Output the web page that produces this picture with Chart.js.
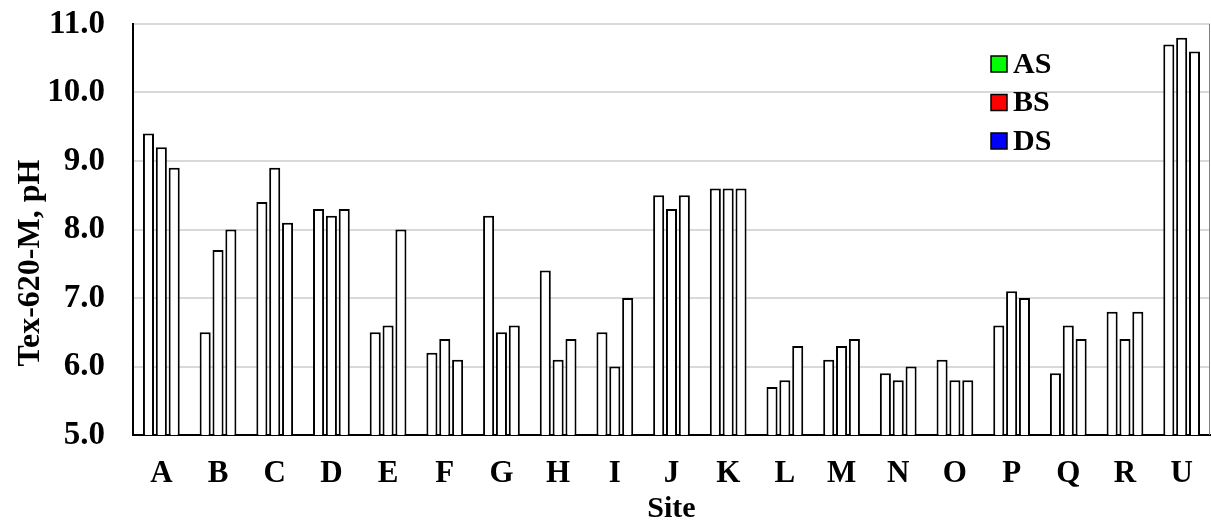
<!DOCTYPE html>
<html>
<head>
<meta charset="utf-8">
<script src="https://cdn.jsdelivr.net/npm/chart.js@4.4.1/dist/chart.umd.min.js"></script>
<style>
  html, body { margin: 0; padding: 0; background: #fff; }
  #wrap { width: 1211px; height: 523px; position: relative; }
</style>
</head>
<body>
<div id="wrap"><canvas id="phChart"></canvas></div>
<script>
// ===== Data =====
const sites = ['A','B','C','D','E','F','G','H','I','J','K','L','M','N','O','P','Q','R','U'];
const asValues = [9.4, 6.5, 8.4, 8.3, 6.5, 6.2, 8.2, 7.4, 6.5, 8.5, 8.6, 5.7, 6.1, 5.9, 6.1, 6.6, 5.9, 6.8, 10.7];
const bsValues = [9.2, 7.7, 8.9, 8.2, 6.6, 6.4, 6.5, 6.1, 6.0, 8.3, 8.6, 5.8, 6.3, 5.8, 5.8, 7.1, 6.6, 6.4, 10.8];
const dsValues = [8.9, 8.0, 8.1, 8.3, 8.0, 6.1, 6.6, 6.4, 7.0, 8.5, 8.6, 6.3, 6.4, 6.0, 5.8, 7.0, 6.4, 6.8, 10.6];
const seriesNames = ['AS', 'BS', 'DS'];
const legendColors = ['#00ff00', '#ff0000', '#0000ff'];
const yTicks = [5, 6, 7, 8, 9, 10, 11];

const FONT = "'Liberation Serif', 'Times New Roman', serif";

// ===== Legend + extra text drawn on the canvas =====
const decorPlugin = {
    id: 'decor',
    afterDraw(chart) {
        const ctx = chart.ctx;
        const area = chart.chartArea;
        ctx.save();
        // right border of the plot
        ctx.strokeStyle = '#808080';
        ctx.lineWidth = 1;
        ctx.beginPath();
        ctx.moveTo(area.right - 0.5, area.top);
        ctx.lineTo(area.right - 0.5, area.bottom);
        ctx.stroke();

        // y axis title
        ctx.fillStyle = '#000';
        ctx.font = 'bold 32px ' + FONT;
        ctx.textAlign = 'center';
        ctx.textBaseline = 'middle';
        ctx.translate(31, 263);
        ctx.rotate(-Math.PI / 2);
        ctx.fillText('Tex-620-M, pH', 0, 0);
        ctx.restore();

        // legend
        ctx.save();
        ctx.font = 'bold 30px ' + FONT;
        ctx.textAlign = 'left';
        ctx.textBaseline = 'middle';
        chart.data.datasets.forEach((ds, i) => {
            const y = 64 + i * 38.5;
            ctx.fillStyle = legendColors[i];
            ctx.fillRect(991, y - 8, 16, 16);
            ctx.strokeStyle = '#000';
            ctx.lineWidth = 1.5;
            ctx.strokeRect(991, y - 8, 16, 16);
            ctx.fillStyle = '#000';
            ctx.fillText(ds.label, 1013, y + 1);
        });
        ctx.restore();
    }
};

function barSet(label, data) {
    return {
        label,
        data,
        backgroundColor: '#ffffff',
        borderColor: '#000000',
        borderWidth: 2,
        borderSkipped: 'bottom',
        categoryPercentage: 0.68,
        barPercentage: 0.86
    };
}

new Chart(document.getElementById('phChart'), {
    type: 'bar',
    data: {
        labels: sites,
        datasets: [
            barSet(seriesNames[0], asValues),
            barSet(seriesNames[1], bsValues),
            barSet(seriesNames[2], dsValues)
        ]
    },
    options: {
        responsive: true,
        maintainAspectRatio: false,
        animation: false,
        layout: { padding: { left: 0, right: 1, top: 24, bottom: 0 } },
        plugins: {
            legend: { display: false },
            tooltip: { enabled: false }
        },
        scales: {
            x: {
                grid: { display: false, drawTicks: false },
                border: { color: '#000', width: 2 },
                ticks: {
                    color: '#000',
                    font: { family: FONT, size: 31, weight: 'bold' },
                    padding: 20,
                    maxRotation: 0
                },
                title: {
                    display: true,
                    text: 'Site',
                    color: '#000',
                    font: { family: FONT, size: 30, weight: 'bold' },
                    padding: { top: 0, bottom: -4 }
                },
                afterFit(scale) { scale.height = 88; scale.paddingLeft = 0; scale.paddingRight = 0; }
            },
            y: {
                min: 5,
                max: 11,
                afterBuildTicks(scale) { scale.ticks = yTicks.map(v => ({ value: v })); },
                grid: { color: '#d9d9d9', lineWidth: 2, drawTicks: false },
                border: { color: '#000', width: 2 },
                ticks: {
                    color: '#000',
                    font: { family: FONT, size: 33, weight: 'bold' },
                    padding: 28,
                    callback: v => Number(v).toFixed(1)
                },
                afterFit(scale) { scale.width = 133; scale.paddingTop = 0; scale.paddingBottom = 0; }
            }
        }
    },
    plugins: [decorPlugin]
});
</script>
</body>
</html>
